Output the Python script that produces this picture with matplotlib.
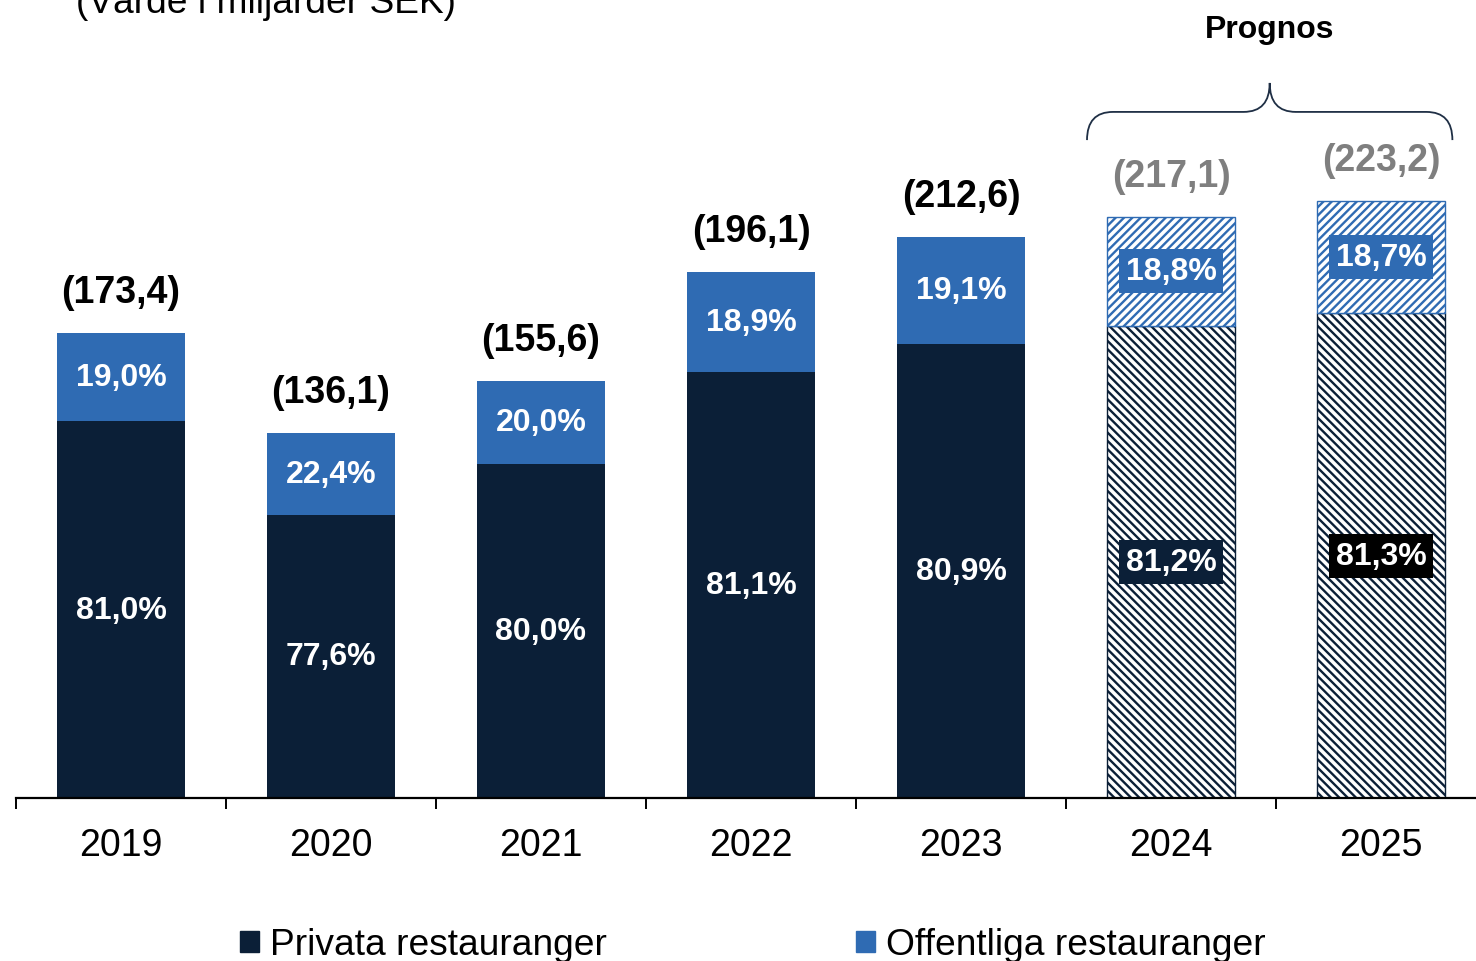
import numpy as np
import matplotlib
matplotlib.use('Agg')
import matplotlib.pyplot as plt
from matplotlib.patches import Patch, PathPatch
from matplotlib.path import Path

plt.rcParams['font.family'] = ['Liberation Sans', 'DejaVu Sans']
plt.rcParams['hatch.linewidth'] = 1.7

years = ['2019', '2020', '2021', '2022', '2023', '2024', '2025']
# bar segments in miljarder SEK
privata = [140.5, 105.6, 124.5, 159.0, 169.3, 176.0, 180.8]
offentliga = [32.9, 30.5, 31.1, 37.1, 39.9, 40.8, 41.7]
total_labels = ['(173,4)', '(136,1)', '(155,6)', '(196,1)', '(212,6)', '(217,1)', '(223,2)']
privata_pct = ['81,0%', '77,6%', '80,0%', '81,1%', '80,9%', '81,2%', '81,3%']
offentliga_pct = ['19,0%', '22,4%', '20,0%', '18,9%', '19,1%', '18,8%', '18,7%']
prognos = [False, False, False, False, False, True, True]

DARK = '#0b1f37'
BLUE = '#2f6bb3'
GREY = '#7f7f7f'

W, H = 1476, 962
fig = plt.figure(figsize=(W / 100, H / 100), dpi=100)
# axes runs slightly past the right edge, like the reference
ax = fig.add_axes([16 / W, 163 / H, 1470 / W, 799 / H])

x = np.arange(len(years))
width = 0.61

for i in x:
    if prognos[i]:
        ax.bar(i, privata[i], width, color='white', edgecolor=DARK, hatch='\\\\\\\\', linewidth=1)
        ax.bar(i, offentliga[i], width, bottom=privata[i], color='white', edgecolor=BLUE,
               hatch='////', linewidth=1)
    else:
        ax.bar(i, privata[i], width, color=DARK, edgecolor='none')
        ax.bar(i, offentliga[i], width, bottom=privata[i], color=BLUE, edgecolor='none')

# segment labels
for i in x:
    priv_box = None
    off_box = None
    if prognos[i]:
        priv_box = dict(boxstyle='square,pad=0.22', fc='black' if i == 6 else DARK, ec='none')
        off_box = dict(boxstyle='square,pad=0.22', fc=BLUE, ec='none')
    ax.text(i, privata[i] / 2, privata_pct[i], ha='center', va='center', color='white',
            fontsize=23, fontweight='bold', bbox=priv_box)
    ax.text(i, privata[i] + offentliga[i] / 2, offentliga_pct[i], ha='center', va='center',
            color='white', fontsize=23, fontweight='bold', bbox=off_box)
    ax.annotate(total_labels[i], (i, privata[i] + offentliga[i]), xytext=(0, 29.5),
                textcoords='offset points', ha='center', va='center', fontsize=27,
                fontweight='bold', color=GREY if prognos[i] else 'black')

ax.set_xlim(-0.5, len(years) - 0.5)
ax.set_ylim(0, 297.9)

for s in ['left', 'top', 'right']:
    ax.spines[s].set_visible(False)
ax.spines['bottom'].set_linewidth(1.6)
ax.set_yticks([])
ax.set_xticks(x)
ax.set_xticklabels(years, fontsize=27)
ax.tick_params(axis='x', which='major', length=0, pad=21)
ax.set_xticks(np.arange(-0.5, len(years), 1), minor=True)
ax.tick_params(axis='x', which='minor', length=8, width=1.4, direction='out')

# brace over the forecast years
x0, x1 = 4.6, 6.34
xm = (x0 + x1) / 2
dx = 0.124
y_end, y_mid, y_tip = 245.3, 255.8, 266.6
verts = [(x0, y_end), (x0, y_mid), (x0 + dx, y_mid),
         (xm - dx, y_mid), (xm, y_mid), (xm, y_tip),
         (xm, y_mid), (xm + dx, y_mid),
         (x1 - dx, y_mid), (x1, y_mid), (x1, y_end)]
codes = [Path.MOVETO, Path.CURVE3, Path.CURVE3,
         Path.LINETO, Path.CURVE3, Path.CURVE3,
         Path.CURVE3, Path.CURVE3,
         Path.LINETO, Path.CURVE3, Path.CURVE3]
ax.add_patch(PathPatch(Path(verts, codes), fc='none', ec='#1f2f45', lw=1.3, clip_on=False))
ax.text(xm, 286.7, 'Prognos', ha='center', va='center', fontsize=23, fontweight='bold')

fig.text(76 / W, 1 - 13 / H, '(Värde i miljarder SEK)', fontsize=26.7, va='baseline', ha='left')

handles = [Patch(color=DARK, label='Privata restauranger'),
           Patch(color=BLUE, label='Offentliga restauranger')]
fig.legend(handles=handles, loc='center', bbox_to_anchor=(0.510, 16 / H), ncol=2,
           frameon=False, fontsize=26.7, handlelength=0.52, handleheight=0.52,
           handletextpad=0.3, columnspacing=6.7)

fig.savefig('out.png', dpi=100)
